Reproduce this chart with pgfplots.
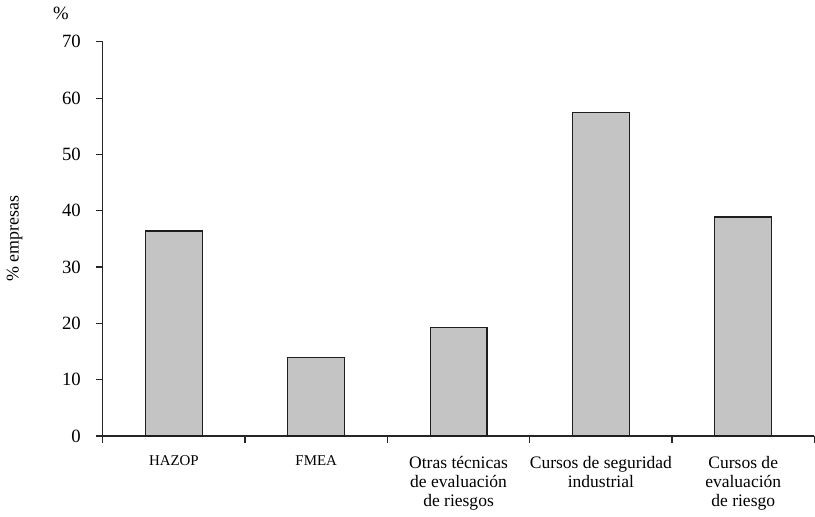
\documentclass[border=0pt]{standalone}
\usepackage{pgfplots}
\pgfplotsset{compat=1.18}
\usepackage{fontspec}
\setmainfont{Liberation Serif}
\definecolor{barfill}{RGB}{196,196,196}
\definecolor{baredge}{RGB}{30,30,30}
\begin{document}
\begin{tikzpicture}
\begin{axis}[
  scale only axis, width=357.5pt, height=198pt,
  xmin=-0.5, xmax=4.5, ymin=0, ymax=70,
  axis lines*=left,
  axis line style={line width=0.6pt, color=black!85},
  ybar, bar width=28.5pt,
  ytick={0,10,...,70},
  /pgf/number format/assume math mode=true,
  yticklabel style={font=\fontsize{9.4}{11}\selectfont, xshift=-4pt},
  tick align=outside, major tick length=3.5pt, minor tick length=3.5pt,
  tick style={line width=0.6pt, color=black!85},
  xtick={0,1,2,3,4},
  xticklabels={{\fontsize{7.5}{9.5}\selectfont HAZOP},{\fontsize{7.5}{9.5}\selectfont FMEA},{Otras técnicas\\de evaluación\\de riesgos},{Cursos de seguridad\\industrial},{Cursos de\\evaluación\\de riesgo}},
  xticklabel style={font=\fontsize{8.8}{9.6}\selectfont, align=center, anchor=north, yshift=-3pt},
  major x tick style={draw=none},
  minor xtick={-0.5,0.5,1.5,2.5,3.5,4.5},
  minor x tick style={line width=0.6pt, color=black!85},
  ylabel={\% empresas},
  ylabel style={font=\fontsize{9}{10}\selectfont, at={(axis description cs:-0.124,0.5)}, anchor=center},
  clip=false,
]
\addplot[fill=barfill, draw=baredge, line width=0.6pt] coordinates {(0,36.4) (1,14.0) (2,19.3) (3,57.4) (4,38.9)};
\node[font=\fontsize{9.4}{11}\selectfont] at (axis description cs:-0.0587,1) [yshift=14.5pt] {\%};
\end{axis}
\end{tikzpicture}
\end{document}
